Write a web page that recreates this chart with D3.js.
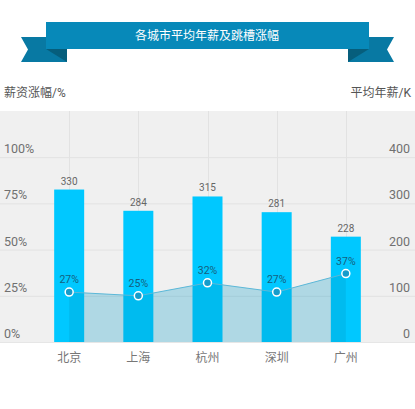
<!DOCTYPE html>
<html>
<head>
<meta charset="utf-8">
<script src="https://cdn.jsdelivr.net/npm/d3@7"></script>
<style>
  body { margin: 0; background: #fff; }
  text { font-family: Roboto, "Noto Sans CJK SC", sans-serif; }
</style>
</head>
<body>
<svg id="chart" width="415" height="409"></svg>
<script>
var cities = ["北京", "上海", "杭州", "深圳", "广州"];
var salary = [330, 284, 315, 281, 228];
var growth = [27, 25, 32, 27, 37];
var leftTicks = [0, 25, 50, 75, 100];
var rightTicks = [0, 100, 200, 300, 400];

var W = 415, plotTop = 111, plotBottom = 342;
var svg = d3.select("#chart");

// title ribbon
var ribbon = svg.append("g");
ribbon.append("path")
  .attr("d", "M21,37 L67,37 L67,62 L21,62 L28,49.5 Z")
  .attr("fill", "#0879a3");
ribbon.append("path")
  .attr("d", "M394,37 L348,37 L348,62 L394,62 L387,49.5 Z")
  .attr("fill", "#0879a3");
ribbon.append("path")
  .attr("d", "M46,49 L67,49 L67,62 Z")
  .attr("fill", "#065e7c");
ribbon.append("path")
  .attr("d", "M369,49 L348,49 L348,62 Z")
  .attr("fill", "#065e7c");
ribbon.append("rect")
  .attr("x", 46).attr("y", 22)
  .attr("width", 323).attr("height", 27)
  .attr("fill", "#0789b9");
ribbon.append("text")
  .attr("x", 207).attr("y", 40)
  .attr("text-anchor", "middle")
  .attr("fill", "#fff")
  .style("font-size", "12px")
  .text("各城市平均年薪及跳槽涨幅");

// axis titles
svg.append("text")
  .attr("x", 4).attr("y", 97)
  .attr("fill", "#555")
  .style("font-size", "12px")
  .text("薪资涨幅/%");
svg.append("text")
  .attr("x", 411).attr("y", 97)
  .attr("text-anchor", "end")
  .attr("fill", "#555")
  .style("font-size", "12px")
  .text("平均年薪/K");

// scales
var x = d3.scalePoint().domain(cities).range([0, W]).padding(1);
var yL = d3.scaleLinear().domain([0, 125]).range([plotBottom, plotTop]);
var yR = d3.scaleLinear().domain([0, 500]).range([plotBottom, plotTop]);

// plot background
svg.append("rect")
  .attr("x", 0).attr("y", plotTop)
  .attr("width", W).attr("height", plotBottom - plotTop)
  .attr("fill", "#f0f0f0");

// grid
svg.append("g").selectAll("line").data(leftTicks.slice(1)).enter()
  .append("line")
  .attr("x1", 0).attr("x2", W)
  .attr("y1", function (d) { return yL(d) + 0.5; })
  .attr("y2", function (d) { return yL(d) + 0.5; })
  .attr("stroke", "#e2e2e2");
svg.append("g").selectAll("line").data(cities).enter()
  .append("line")
  .attr("y1", plotTop).attr("y2", plotBottom)
  .attr("x1", function (d) { return Math.round(x(d)) + 0.5; })
  .attr("x2", function (d) { return Math.round(x(d)) + 0.5; })
  .attr("stroke", "#e2e2e2");

// bars
svg.append("g").selectAll("rect").data(salary).enter()
  .append("rect")
  .attr("x", function (d, i) { return x(cities[i]) - 15; })
  .attr("y", function (d) { return yR(d); })
  .attr("width", 30)
  .attr("height", function (d) { return plotBottom - yR(d); })
  .attr("fill", "#00c8ff");

// area + line
var area = d3.area()
  .x(function (d, i) { return x(cities[i]); })
  .y0(plotBottom)
  .y1(function (d) { return yL(d); });
var line = d3.line()
  .x(function (d, i) { return x(cities[i]); })
  .y(function (d) { return yL(d); });
svg.append("path").datum(growth)
  .attr("d", area)
  .attr("fill", "rgb(0,150,195)")
  .attr("fill-opacity", 0.27);
svg.append("path").datum(growth)
  .attr("d", line)
  .attr("fill", "none")
  .attr("stroke", "#5cb8d8")
  .attr("stroke-width", 1);

// bottom baseline
svg.append("line")
  .attr("x1", 0).attr("x2", W)
  .attr("y1", plotBottom + 0.5).attr("y2", plotBottom + 0.5)
  .attr("stroke", "#e6e6e6");

// points
svg.append("g").selectAll("circle").data(growth).enter()
  .append("circle")
  .attr("cx", function (d, i) { return x(cities[i]); })
  .attr("cy", function (d) { return yL(d); })
  .attr("r", 4)
  .attr("fill", "#159ccb")
  .attr("stroke", "#fff")
  .attr("stroke-width", 1.5);

// labels
svg.append("g").selectAll("text").data(growth).enter()
  .append("text")
  .attr("x", function (d, i) { return x(cities[i]); })
  .attr("y", function (d) { return yL(d) - 9; })
  .attr("text-anchor", "middle")
  .attr("fill", "#155f7e")
  .style("font-size", "10.5px")
  .text(function (d) { return d + "%"; });
svg.append("g").selectAll("text").data(salary).enter()
  .append("text")
  .attr("x", function (d, i) { return x(cities[i]); })
  .attr("y", function (d) { return yR(d) - 5; })
  .attr("text-anchor", "middle")
  .attr("fill", "#666")
  .style("font-size", "10px")
  .text(function (d) { return d; });

// axis tick labels
svg.append("g").selectAll("text").data(leftTicks).enter()
  .append("text")
  .attr("x", 4)
  .attr("y", function (d) { return yL(d) - 4; })
  .attr("fill", "#707070")
  .style("font-size", "12.5px")
  .text(function (d) { return d + "%"; });
svg.append("g").selectAll("text").data(rightTicks).enter()
  .append("text")
  .attr("x", 410)
  .attr("y", function (d) { return yR(d) - 4; })
  .attr("text-anchor", "end")
  .attr("fill", "#707070")
  .style("font-size", "12.5px")
  .text(function (d) { return d; });

// x labels
svg.append("g").selectAll("text").data(cities).enter()
  .append("text")
  .attr("x", function (d) { return x(d); })
  .attr("y", 362)
  .attr("text-anchor", "middle")
  .attr("fill", "#777")
  .style("font-size", "12px")
  .text(function (d) { return d; });
</script>
</body>
</html>
